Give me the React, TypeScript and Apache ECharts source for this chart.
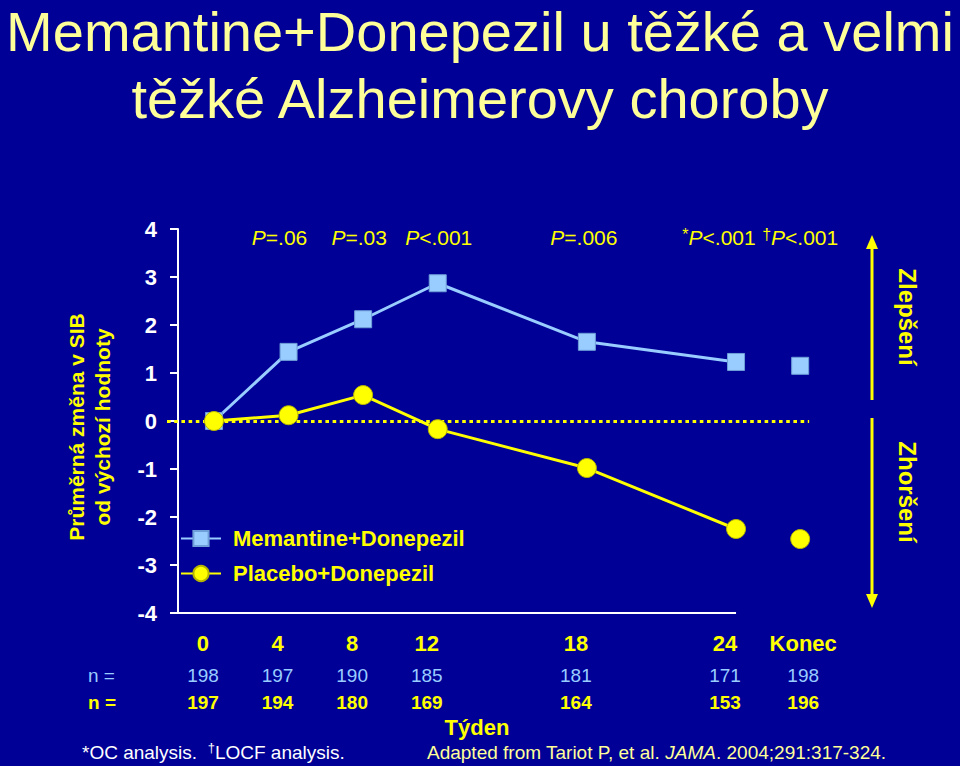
import React, { useEffect, useRef } from "react";
import * as echarts from "echarts";

// ---------- data ----------
const weekLabels = ["0", "4", "8", "12", "18", "24", "Konec"];
// horizontal slot of each category on the (non-proportional) week axis
const slotPos = [0, 1, 2, 3, 5, 7, 7.86];
const memantine = [0, 1.44, 2.12, 2.87, 1.65, 1.23, 1.15];
const placebo = [0, 0.12, 0.54, -0.17, -0.98, -2.25, -2.46];
const nMemantine = ["198", "197", "190", "185", "181", "171", "198"];
const nPlacebo = ["197", "194", "180", "169", "164", "153", "196"];
const pLabels = ["", "P=.06", "P=.03", "P<.001", "P=.006", "*P<.001", "†P<.001"];
const seriesNames = ["Memantine+Donepezil", "Placebo+Donepezil"];
const titleLines = ["Memantine+Donepezil u těžké a velmi", "těžké Alzheimerovy choroby"];
const yMin = -4;
const yMax = 4;
const yStep = 1;

// ---------- layout / style ----------
const FONT = 'Arial, "Liberation Sans", Helvetica, sans-serif';
const BG = "#000096";
const YELLOW = "#FFFF00";
const PALE_YELLOW = "#FFFF99";
const LIGHT_BLUE = "#99CCFF";
const X_MIN = -0.63;
const X_MAX = 8.3;
const SLOT_PX = 74.57;
const Y_AXIS_X = -0.483; // slot coordinate where the y axis sits
const pNudgePx = [0, -9, -4, 1, -3, -17, 0];
const labelNudge = -11;

function idxOf(v: number) {
  let best = 0;
  let d = Infinity;
  slotPos.forEach((s, i) => {
    const dd = Math.abs(s - v);
    if (dd < d) {
      d = dd;
      best = i;
    }
  });
  return best;
}

function bottomRich(color: string, size: number, weight: string) {
  return {
    a: { color, fontSize: size, fontWeight: weight, fontFamily: FONT, padding: [0, -2 * labelNudge, 0, 0] },
    k: { color, fontSize: size, fontWeight: weight, fontFamily: FONT, padding: [0, 0, 0, 6] },
  };
}

function bottomAxis(texts: string[], margin: number, color: string, size: number, weight: string) {
  return {
    type: "value",
    position: "bottom",
    gridIndex: 0,
    min: X_MIN,
    max: X_MAX,
    axisLine: { show: false, onZero: false },
    axisTick: { show: false },
    splitLine: { show: false },
    axisLabel: {
      show: true,
      showMinLabel: true,
      showMaxLabel: true,
      customValues: slotPos,
      margin,
      formatter: (v: number) => {
        const i = idxOf(v);
        return i === slotPos.length - 1 ? `{k|${texts[i]}}` : `{a|${texts[i]}}`;
      },
      rich: bottomRich(color, size, weight),
    },
  };
}

const pRich = {
  s: { color: YELLOW, fontSize: 16, fontFamily: FONT, verticalAlign: "top", lineHeight: 22 },
  i: { color: YELLOW, fontSize: 21, fontStyle: "italic", fontFamily: FONT, lineHeight: 22 },
  r: { color: YELLOW, fontSize: 21, fontFamily: FONT, lineHeight: 22 },
};

function pText(i: number) {
  let s = pLabels[i];
  if (!s) return "";
  let sup = "";
  if (s[0] === "*" || s[0] === "†") {
    sup = s[0];
    s = s.slice(1);
  }
  return `${sup ? `{s|${sup}}` : ""}{i|${s[0]}}{r|${s.slice(1)}}`;
}

function pAxis(indices: number[]) {
  const values = indices.map((i) => slotPos[i] + pNudgePx[i] / SLOT_PX);
  return {
    type: "value",
    position: "top",
    min: X_MIN,
    max: X_MAX,
    axisLine: { show: false, onZero: false },
    axisTick: { show: false },
    splitLine: { show: false },
    axisLabel: {
      show: true,
      showMinLabel: true,
      showMaxLabel: true,
      inside: true,
      margin: -3,
      customValues: values,
      formatter: (v: number) => {
        let best = indices[0];
        let d = Infinity;
        indices.forEach((i, k) => {
          const dd = Math.abs(values[k] - v);
          if (dd < d) {
            d = dd;
            best = i;
          }
        });
        return pText(best);
      },
      rich: pRich,
    },
  };
}

export default function App() {
  const ref = useRef<HTMLDivElement>(null);

  useEffect(() => {
    const chart = echarts.init(ref.current!, null, { renderer: "svg" });

    const memLine = slotPos.slice(0, 6).map((x, i) => [x, memantine[i]]);
    const plaLine = slotPos.slice(0, 6).map((x, i) => [x, placebo[i]]);
    const last = slotPos.length - 1;

    const titleStyle = {
      color: PALE_YELLOW,
      fontSize: 56,
      fontWeight: "normal",
      fontFamily: FONT,
      lineHeight: 57,
    };

    const option: any = {
      animation: false,
      backgroundColor: BG,
      textStyle: { fontFamily: FONT },
      title: [
        { text: titleLines[0], left: "center", top: 3, padding: 0, textStyle: titleStyle },
        { text: titleLines[1], left: "center", top: 70, padding: 0, textStyle: titleStyle },
      ],
      grid: { left: 167, right: 127, top: 229, bottom: 153, containLabel: false },
      legend: {
        data: seriesNames,
        orient: "vertical",
        left: 180,
        top: 527.5,
        padding: 0,
        itemWidth: 40,
        itemHeight: 19,
        itemGap: 13,
        textStyle: { color: YELLOW, fontSize: 22, fontWeight: "bold", fontFamily: FONT, padding: [0, 0, 0, 7] },
      },
      xAxis: [
        bottomAxis(weekLabels, 19, YELLOW, 22, "bold"),
        bottomAxis(nMemantine, 53, LIGHT_BLUE, 19, "normal"),
        bottomAxis(nPlacebo, 80, YELLOW, 19, "bold"),
        pAxis([1, 2, 3, 4, 5]),
        pAxis([6]),
      ],
      yAxis: {
        type: "value",
        min: yMin,
        max: yMax,
        interval: yStep,
        offset: -11,
        name: "Průměrná změna v SIB\nod výchozí hodnoty",
        nameLocation: "middle",
        nameGap: 63,
        nameTextStyle: {
          color: YELLOW,
          fontSize: 21,
          fontWeight: "bold",
          fontFamily: FONT,
          lineHeight: 26,
          padding: [0, 12, 0, 0],
        },
        axisLine: { show: true, onZero: false, lineStyle: { color: "#FFFFFF", width: 2 } },
        axisTick: { show: true, length: 8, lineStyle: { color: "#FFFFFF", width: 2 } },
        splitLine: { show: false },
        axisLabel: { color: "#FFFFFF", fontSize: 22, fontWeight: "bold", fontFamily: FONT, margin: 21 },
      },
      series: [
        {
          name: seriesNames[0],
          type: "line",
          xAxisIndex: 0,
          data: memLine,
          symbol: "rect",
          symbolSize: 17,
          lineStyle: { color: LIGHT_BLUE, width: 3 },
          itemStyle: { color: LIGHT_BLUE, borderColor: "#6F9FD8", borderWidth: 1, opacity: 1 },
          z: 3,
          markLine: {
            silent: true,
            z: 1,
            symbol: ["none", "none"],
            label: { show: false },
            data: [
              [
                { coord: [X_MIN, 0], lineStyle: { color: YELLOW, width: 3, type: [3.6, 3.6] } },
                { coord: [7.98, 0] },
              ],
              [
                { coord: [Y_AXIS_X, yMin], lineStyle: { color: "#FFFFFF", width: 2, type: "solid" } },
                { coord: [slotPos[5], yMin] },
              ],
            ],
          },
        },
        {
          name: "memEnd",
          type: "scatter",
          xAxisIndex: 0,
          data: [[slotPos[last], memantine[last]]],
          symbol: "rect",
          symbolSize: 17,
          itemStyle: { color: LIGHT_BLUE, borderColor: "#6F9FD8", borderWidth: 1, opacity: 1 },
          z: 3,
        },
        {
          name: seriesNames[1],
          type: "line",
          xAxisIndex: 0,
          data: plaLine,
          symbol: "circle",
          symbolSize: 19,
          lineStyle: { color: YELLOW, width: 3 },
          itemStyle: { color: YELLOW, borderColor: "#B5B500", borderWidth: 1, opacity: 1 },
          z: 4,
        },
        {
          name: "plaEnd",
          type: "scatter",
          xAxisIndex: 0,
          data: [[slotPos[last], placebo[last]]],
          symbol: "circle",
          symbolSize: 19,
          itemStyle: { color: YELLOW, borderColor: "#B5B500", borderWidth: 1, opacity: 1 },
          z: 4,
        },
      ],
      graphic: [
        {
          type: "text",
          left: 88,
          top: 666,
          style: { text: "n =", fill: LIGHT_BLUE, fontSize: 19, fontFamily: FONT },
        },
        {
          type: "text",
          left: 88,
          top: 693,
          style: { text: "n =", fill: YELLOW, fontSize: 19, fontWeight: "bold", fontFamily: FONT },
        },
        {
          type: "text",
          x: 477,
          y: 727,
          style: {
            text: "Týden",
            fill: YELLOW,
            fontSize: 22,
            fontWeight: "bold",
            fontFamily: FONT,
            align: "center",
            verticalAlign: "middle",
          },
        },
        {
          type: "text",
          x: 82,
          y: 752,
          style: {
            text: "{w|*OC analysis.  }{s|†}{w|LOCF analysis.}",
            verticalAlign: "middle",
            rich: {
              w: { fill: "#FFFFFF", fontSize: 19, fontFamily: FONT, lineHeight: 22 },
              s: { fill: "#FFFFFF", fontSize: 13, fontFamily: FONT, verticalAlign: "top", lineHeight: 22 },
            },
          },
        },
        {
          type: "text",
          x: 427,
          y: 752,
          style: {
            text: "{y|Adapted from Tariot P, et al. }{i|JAMA}{y|. 2004;291:317-324.}",
            verticalAlign: "middle",
            rich: {
              y: { fill: PALE_YELLOW, fontSize: 19, fontFamily: FONT, lineHeight: 22 },
              i: { fill: PALE_YELLOW, fontSize: 19, fontFamily: FONT, fontStyle: "italic", lineHeight: 22 },
            },
          },
        },
        // improvement / worsening arrows
        { type: "line", shape: { x1: 872, y1: 246, x2: 872, y2: 400 }, style: { stroke: YELLOW, lineWidth: 3 } },
        {
          type: "polygon",
          shape: { points: [[872, 235], [866, 249], [878, 249]] },
          style: { fill: YELLOW },
        },
        { type: "line", shape: { x1: 872, y1: 418, x2: 872, y2: 597 }, style: { stroke: YELLOW, lineWidth: 3 } },
        {
          type: "polygon",
          shape: { points: [[872, 608], [866, 594], [878, 594]] },
          style: { fill: YELLOW },
        },
        {
          type: "text",
          x: 907,
          y: 317,
          rotation: -Math.PI / 2,
          style: {
            text: "Zlepšení",
            fill: YELLOW,
            fontSize: 24,
            fontWeight: "bold",
            fontFamily: FONT,
            align: "center",
            verticalAlign: "middle",
          },
        },
        {
          type: "text",
          x: 907,
          y: 492,
          rotation: -Math.PI / 2,
          style: {
            text: "Zhoršení",
            fill: YELLOW,
            fontSize: 24,
            fontWeight: "bold",
            fontFamily: FONT,
            align: "center",
            verticalAlign: "middle",
          },
        },
      ],
    };

    chart.setOption(option);
    return () => chart.dispose();
  }, []);

  return (
    <div
      ref={ref}
      style={{ position: "absolute", left: 0, top: 0, width: 960, height: 766, background: BG }}
    />
  );
}
